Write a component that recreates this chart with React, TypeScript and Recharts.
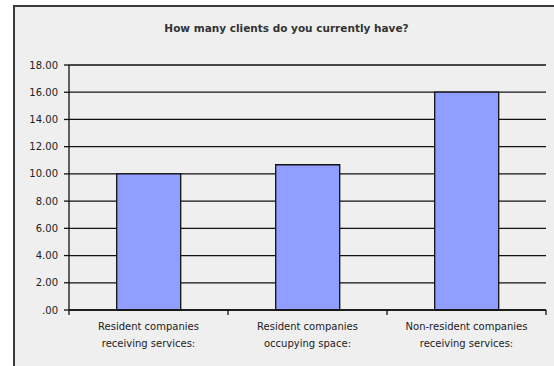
import { BarChart, Bar, XAxis, YAxis, CartesianGrid } from "recharts";

const categories = [
  "Resident companies receiving services:",
  "Resident companies occupying space:",
  "Non-resident companies receiving services:",
];
const labelLines = [
  ["Resident companies", "receiving services:"],
  ["Resident companies", "occupying space:"],
  ["Non-resident companies", "receiving services:"],
];
const clients = [10, 10.67, 16];
const yTicks = [0, 2, 4, 6, 8, 10, 12, 14, 16, 18];
const edgeTicks = [0, 1, 2, 3];

const data = categories.map((name, i) => ({ name, idx: i, clients: clients[i] }));

const font = "'DejaVu Sans', Verdana, sans-serif";

const fmtY = (v: number) => (v === 0 ? ".00" : v.toFixed(2));

function CategoryTick(props: any) {
  const { x, y, index } = props;
  const lines = labelLines[index] || [];
  return (
    <g>
      {lines.map((line, i) => (
        <text
          key={i}
          x={x}
          y={y}
          dy={6 + i * 17}
          textAnchor="middle"
          fontFamily={font}
          fontSize={10}
          fill="#222"
        >
          {line}
        </text>
      ))}
    </g>
  );
}

export default function App() {
  return (
    <div
      style={{
        position: "absolute",
        left: 0,
        top: 0,
        width: 554,
        height: 366,
        background: "#fff",
        overflow: "hidden",
      }}
    >
      <div
        style={{
          position: "absolute",
          left: 13,
          top: 5,
          width: 600,
          height: 400,
          border: "2px solid #3a3a3a",
          background: "#efefef",
        }}
      />
      <div
        style={{
          position: "absolute",
          left: 0,
          top: 22,
          width: 573,
          textAlign: "center",
          fontFamily: font,
          fontWeight: "bold",
          fontSize: 10.5,
          color: "#333",
        }}
      >
        How many clients do you currently have?
      </div>
      <div style={{ position: "absolute", left: 0, top: 0 }}>
        <BarChart
          width={554}
          height={366}
          data={data}
          margin={{ top: 65, right: 8, bottom: 20, left: 9 }}
          barCategoryGap="30%"
        >
          <CartesianGrid vertical={false} stroke="#111" strokeWidth={1.3} />
          <XAxis
            type="number"
            dataKey="idx"
            domain={[0, 3]}
            ticks={edgeTicks}
            tickFormatter={() => ""}
            height={6}
            tickSize={5}
            stroke="#111"
            strokeWidth={1.3}
            allowDataOverflow
          />
          <XAxis
            xAxisId="cat"
            dataKey="name"
            axisLine={false}
            tickLine={false}
            height={30}
            interval={0}
            tick={<CategoryTick />}
          />
          <YAxis
            domain={[0, 18]}
            ticks={yTicks}
            tickFormatter={fmtY}
            width={60}
            tickSize={5}
            tickMargin={6}
            stroke="#111"
            strokeWidth={1.3}
            tick={{ fontFamily: font, fontSize: 10, fill: "#222" }}
          />
          <Bar
            xAxisId="cat"
            dataKey="clients"
            fill="#909fff"
            stroke="#111"
            strokeWidth={1.3}
            isAnimationActive={false}
          />
        </BarChart>
      </div>
    </div>
  );
}
